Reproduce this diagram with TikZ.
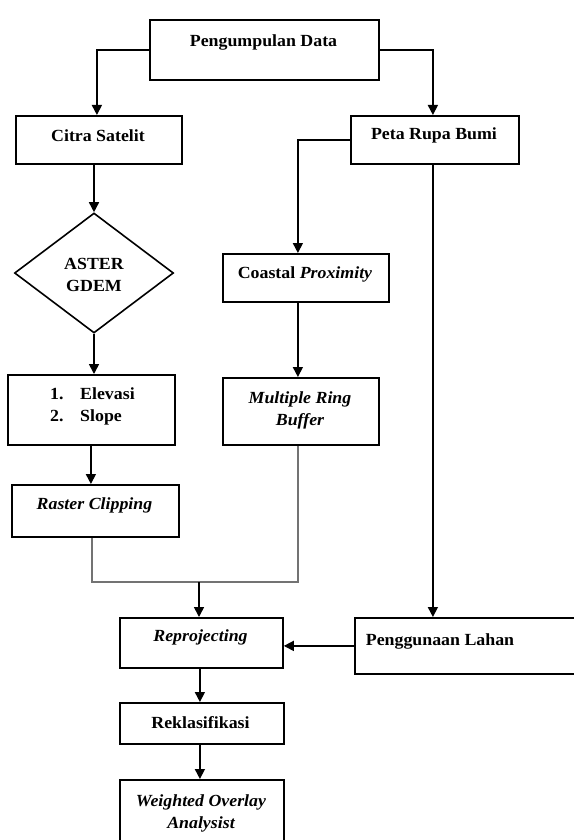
\documentclass[tikz,border=0pt]{standalone}
\usepackage{fontspec}
\setmainfont{Liberation Serif}[FakeStretch=1.05]
\usetikzlibrary{arrows.meta,shapes.geometric}
\begin{document}
\begin{tikzpicture}[x=1pt,y=-1pt,
  box/.style={draw, line width=1.8pt, inner sep=0, anchor=north west},
  txt/.style={font=\fontsize{17}{22}\selectfont\bfseries, inner sep=0, anchor=base, align=center},
  conn/.style={line width=1.6pt, -{Triangle[width=10pt,length=10pt]}},
  grayline/.style={line width=1.2pt, draw=black!55}]
\useasboundingbox (0,0) rectangle (573,840);
% boxes
\node[box, minimum width=229pt, minimum height=60pt] (pd) at (149,19) {};
\node[box, minimum width=166pt, minimum height=48pt] (cs) at (15,115) {};
\node[box, minimum width=168pt, minimum height=48pt] (prb) at (350,115) {};
\node[draw, line width=1.6pt, shape=diamond, inner sep=0, minimum width=159pt, minimum height=120pt] (dm) at (94,273) {};
\node[box, minimum width=167pt, minimum height=70pt] (el) at (7,374) {};
\node[box, minimum width=167pt, minimum height=52pt] (rc) at (11,484) {};
\node[box, minimum width=166pt, minimum height=48pt] (cp) at (222,253) {};
\node[box, minimum width=156pt, minimum height=67pt] (mrb) at (222,377) {};
\node[box, minimum width=163pt, minimum height=50pt] (rp) at (119,617) {};
\node[box, minimum width=232pt, minimum height=56pt] (pl) at (354,617) {};
\node[box, minimum width=164pt, minimum height=41pt] (rk) at (119,702) {};
\node[box, minimum width=164pt, minimum height=75pt] (wo) at (119,779) {};
% texts
\node[txt] (pdt) at (263.5,47) {Pengumpulan Data};
\node[txt] (cst) at (98,141.5) {Citra Satelit};
\node[txt] (prbt) at (434,139.5) {Peta Rupa Bumi};
\node[txt] (dmt) at (94,291) {ASTER\\GDEM};
\node[txt, align=left, anchor=base west] (elt) at (50,421) {\makebox[30pt][l]{1.}Elevasi\\\makebox[30pt][l]{2.}Slope};
\node[txt] (rct) at (94.5,509) {\itshape Raster Clipping};
\node[txt] (cpt) at (305,278) {Coastal \textit{Proximity}};
\node[txt] (mrbt) at (300,425) {\itshape Multiple Ring\\\itshape Buffer};
\node[txt] (rpt) at (200.5,641) {\itshape Reprojecting};
\node[txt] (plt) at (440,645) {Penggunaan Lahan};
\node[txt] (rkt) at (200.5,728) {Reklasifikasi};
\node[txt] (wot) at (201,828) {\itshape Weighted Overlay\\\itshape Analysist};
% connectors
\draw[conn] (pd.west) -| ([xshift=-2pt]cs.north);
\draw[conn] (pd.east) -| ([xshift=-2pt]prb.north);
\draw[conn] (dm.north |- cs.south) -- (dm.north);
\draw[conn] (dm.south) -- (dm.south |- el.north);
\draw[conn] ([xshift=-0.5pt]el.south) -- ([xshift=-0.5pt]el.south |- rc.north);
\draw[conn] (prb.west) -| ([xshift=-8pt]cp.north);
\draw[conn] ([xshift=-8pt]cp.south) -- ([xshift=-8pt]cp.south |- mrb.north);
\coordinate (j) at (199,582);
\draw[grayline] ([xshift=-3pt]mrb.south) |- (j) -| ([xshift=-3.5pt]rc.south);
\draw[conn] (j) -- (j |- rp.north);
\draw[conn] ([xshift=-2pt]prb.south) -- ([xshift=-2pt]prb.south |- pl.north);
\draw[conn] (pl.west) -- (pl.west -| rp.east);
\draw[conn] ([xshift=-1.5pt]rp.south) -- ([xshift=-1.5pt]rp.south |- rk.north);
\draw[conn] ([xshift=-2pt]rk.south) -- ([xshift=-2pt]rk.south |- wo.north);
\end{tikzpicture}
\end{document}
